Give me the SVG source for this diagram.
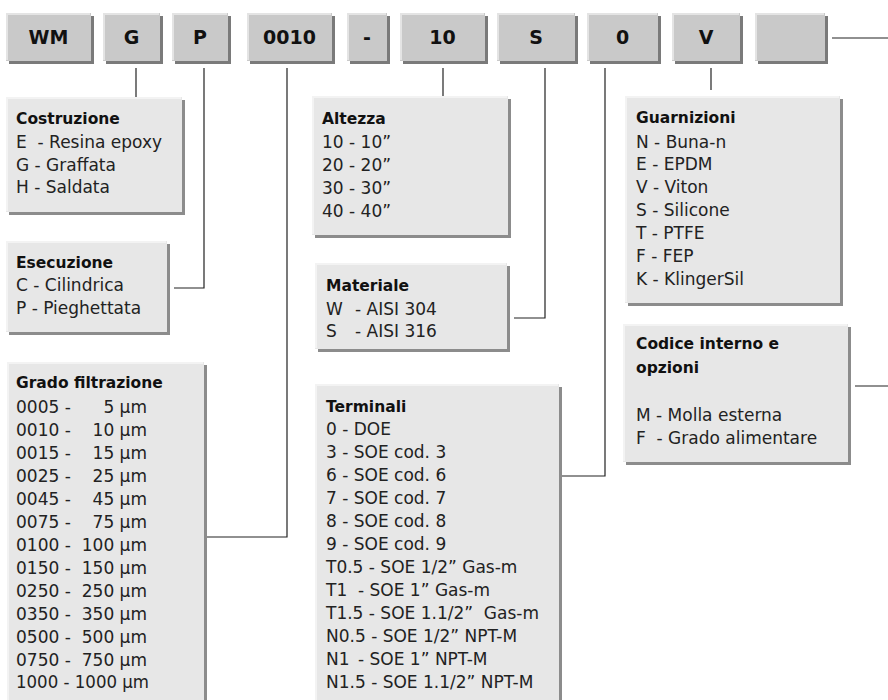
<svg xmlns="http://www.w3.org/2000/svg" width="888" height="700" viewBox="0 0 888 700">
<style>
.bg{fill:#ffffff}
.cs{fill:#7a7a7a}
.cb{fill:#c9c9c9}
.ch{fill:none;stroke:#e4e4e4;stroke-width:2}
.is{fill:#8c8c8c}
.ib{fill:#e7e7e7}
.ih{fill:none;stroke:#f3f3f3;stroke-width:2}
.ct{font-family:"DejaVu Sans","Liberation Sans",sans-serif;font-weight:bold;font-size:19px;fill:#111;text-anchor:middle}
.t{font-family:"DejaVu Sans","Liberation Sans",sans-serif;font-size:17px;fill:#222}
.h{font-family:"DejaVu Sans","Liberation Sans",sans-serif;font-size:15.5px;font-weight:bold;fill:#111}
.e{text-anchor:end}
.ln{fill:none;stroke:#222;stroke-width:1.2}
</style>
<rect class="bg" x="0" y="0" width="888" height="700"/>
<g id="codes">
<g id="code-WM"><rect class="cs" x="9" y="16" width="85" height="48"/><rect class="cb" x="6" y="13" width="85" height="48"/><path class="ch" d="M7 60V14H90"/><text class="ct" x="48.5" y="44">WM</text></g>
<g id="code-G"><rect class="cs" x="106" y="16" width="57" height="48"/><rect class="cb" x="103" y="13" width="57" height="48"/><path class="ch" d="M104 60V14H159"/><text class="ct" x="131.5" y="44">G</text></g>
<g id="code-P"><rect class="cs" x="175" y="16" width="56" height="48"/><rect class="cb" x="172" y="13" width="56" height="48"/><path class="ch" d="M173 60V14H227"/><text class="ct" x="200" y="44">P</text></g>
<g id="code-0010"><rect class="cs" x="250" y="16" width="85" height="48"/><rect class="cb" x="247" y="13" width="85" height="48"/><path class="ch" d="M248 60V14H331"/><text class="ct" x="289.5" y="44">0010</text></g>
<g id="code-dash"><rect class="cs" x="350" y="16" width="40" height="48"/><rect class="cb" x="347" y="13" width="40" height="48"/><path class="ch" d="M348 60V14H386"/><text class="ct" x="367" y="44">-</text></g>
<g id="code-10"><rect class="cs" x="403" y="16" width="85" height="48"/><rect class="cb" x="400" y="13" width="85" height="48"/><path class="ch" d="M401 60V14H484"/><text class="ct" x="442.5" y="44">10</text></g>
<g id="code-S"><rect class="cs" x="500" y="16" width="78" height="48"/><rect class="cb" x="497" y="13" width="78" height="48"/><path class="ch" d="M498 60V14H574"/><text class="ct" x="536" y="44">S</text></g>
<g id="code-0"><rect class="cs" x="590" y="16" width="71" height="48"/><rect class="cb" x="587" y="13" width="71" height="48"/><path class="ch" d="M588 60V14H657"/><text class="ct" x="622.5" y="44">0</text></g>
<g id="code-V"><rect class="cs" x="675" y="16" width="68" height="48"/><rect class="cb" x="672" y="13" width="68" height="48"/><path class="ch" d="M673 60V14H739"/><text class="ct" x="706" y="44">V</text></g>
<g id="code-blank"><rect class="cs" x="758" y="16" width="70" height="48"/><rect class="cb" x="755" y="13" width="70" height="48"/><path class="ch" d="M756 60V14H824"/></g>
</g>
<g id="connectors">
<path class="ln" d="M136 68V97"/>
<path class="ln" d="M204 68V288H174"/>
<path class="ln" d="M287 68V537H205"/>
<path class="ln" d="M443 68V96"/>
<path class="ln" d="M545 68V318H514"/>
<path class="ln" d="M605 68V476H561"/>
<path class="ln" d="M711 68V90"/>
<path class="ln" d="M832 38H888"/>
<path class="ln" d="M855 386H888"/>
</g>
<g id="costruzione"><rect class="is" x="9" y="100" width="176" height="115"/><rect class="ib" x="6" y="97" width="176" height="115"/><path class="ih" d="M7 211V98H181"/>
<text class="h" x="16" y="124">Costruzione</text>
<text class="t" x="16" y="148" xml:space="preserve">E  - Resina epoxy</text>
<text class="t" x="16" y="171">G - Graffata</text>
<text class="t" x="16" y="193">H - Saldata</text></g>
<g id="esecuzione"><rect class="is" x="9" y="244" width="161" height="91"/><rect class="ib" x="6" y="241" width="161" height="91"/><path class="ih" d="M7 331V242H166"/>
<text class="h" x="16" y="268">Esecuzione</text>
<text class="t" x="16" y="291">C - Cilindrica</text>
<text class="t" x="16" y="314">P - Pieghettata</text></g>
<g id="grado"><rect class="is" x="10" y="365" width="197" height="340"/><rect class="ib" x="7" y="362" width="197" height="340"/><path class="ih" d="M8 700V363H203"/>
<text class="h" x="16" y="388">Grado filtrazione</text>
<text class="t" x="16" y="413">0005 -</text><text class="t e" x="147" y="413">5 µm</text>
<text class="t" x="16" y="436">0010 -</text><text class="t e" x="147" y="436">10 µm</text>
<text class="t" x="16" y="459">0015 -</text><text class="t e" x="147" y="459">15 µm</text>
<text class="t" x="16" y="482">0025 -</text><text class="t e" x="147" y="482">25 µm</text>
<text class="t" x="16" y="505">0045 -</text><text class="t e" x="147" y="505">45 µm</text>
<text class="t" x="16" y="528">0075 -</text><text class="t e" x="147" y="528">75 µm</text>
<text class="t" x="16" y="551">0100 -</text><text class="t e" x="147" y="551">100 µm</text>
<text class="t" x="16" y="574">0150 -</text><text class="t e" x="147" y="574">150 µm</text>
<text class="t" x="16" y="597">0250 -</text><text class="t e" x="147" y="597">250 µm</text>
<text class="t" x="16" y="620">0350 -</text><text class="t e" x="147" y="620">350 µm</text>
<text class="t" x="16" y="643">0500 -</text><text class="t e" x="147" y="643">500 µm</text>
<text class="t" x="16" y="666">0750 -</text><text class="t e" x="147" y="666">750 µm</text>
<text class="t" x="16" y="688" textLength="133" lengthAdjust="spacingAndGlyphs">1000 - 1000 µm</text></g>
<g id="altezza"><rect class="is" x="315" y="99" width="196" height="139"/><rect class="ib" x="312" y="96" width="196" height="139"/><path class="ih" d="M313 234V97H507"/>
<text class="h" x="322" y="124">Altezza</text>
<text class="t" x="322" y="148">10 - 10”</text>
<text class="t" x="322" y="171">20 - 20”</text>
<text class="t" x="322" y="194">30 - 30”</text>
<text class="t" x="322" y="217">40 - 40”</text></g>
<g id="materiale"><rect class="is" x="318" y="266" width="192" height="86"/><rect class="ib" x="315" y="263" width="192" height="86"/><path class="ih" d="M316 348V264H506"/>
<text class="h" x="326" y="291">Materiale</text>
<text class="t" x="326" y="315">W</text><text class="t" x="355" y="315">- AISI 304</text>
<text class="t" x="326" y="337">S</text><text class="t" x="355" y="337">- AISI 316</text></g>
<g id="terminali"><rect class="is" x="318" y="387" width="244" height="320"/><rect class="ib" x="315" y="384" width="244" height="320"/><path class="ih" d="M316 700V385H558"/>
<text class="h" x="326" y="412">Terminali</text>
<text class="t" x="326" y="435">0 - DOE</text>
<text class="t" x="326" y="458">3 - SOE cod. 3</text>
<text class="t" x="326" y="481">6 - SOE cod. 6</text>
<text class="t" x="326" y="504">7 - SOE cod. 7</text>
<text class="t" x="326" y="527">8 - SOE cod. 8</text>
<text class="t" x="326" y="550">9 - SOE cod. 9</text>
<text class="t" x="326" y="573">T0.5 - SOE 1/2” Gas-m</text>
<text class="t" x="326" y="596">T1</text><text class="t" x="358" y="596">- SOE 1” Gas-m</text>
<text class="t" x="326" y="619" xml:space="preserve">T1.5 - SOE 1.1/2”  Gas-m</text>
<text class="t" x="326" y="642">N0.5 - SOE 1/2” NPT-M</text>
<text class="t" x="326" y="665">N1</text><text class="t" x="358" y="665">- SOE 1” NPT-M</text>
<text class="t" x="326" y="688">N1.5 - SOE 1.1/2” NPT-M</text></g>
<g id="guarnizioni"><rect class="is" x="628" y="99" width="215" height="207"/><rect class="ib" x="625" y="96" width="215" height="207"/><path class="ih" d="M626 302V97H839"/>
<text class="h" x="636" y="123">Guarnizioni</text>
<text class="t" x="636" y="148">N - Buna-n</text>
<text class="t" x="636" y="170">E - EPDM</text>
<text class="t" x="636" y="193">V - Viton</text>
<text class="t" x="636" y="216">S - Silicone</text>
<text class="t" x="636" y="239">T - PTFE</text>
<text class="t" x="636" y="262">F - FEP</text>
<text class="t" x="636" y="285">K - KlingerSil</text></g>
<g id="codice"><rect class="is" x="626" y="327" width="225" height="138"/><rect class="ib" x="623" y="324" width="225" height="138"/><path class="ih" d="M624 461V325H847"/>
<text class="h" x="636" y="349">Codice interno e</text>
<text class="h" x="636" y="373">opzioni</text>
<text class="t" x="636" y="421">M - Molla esterna</text>
<text class="t" x="636" y="444" xml:space="preserve">F  - Grado alimentare</text></g>
</svg>
